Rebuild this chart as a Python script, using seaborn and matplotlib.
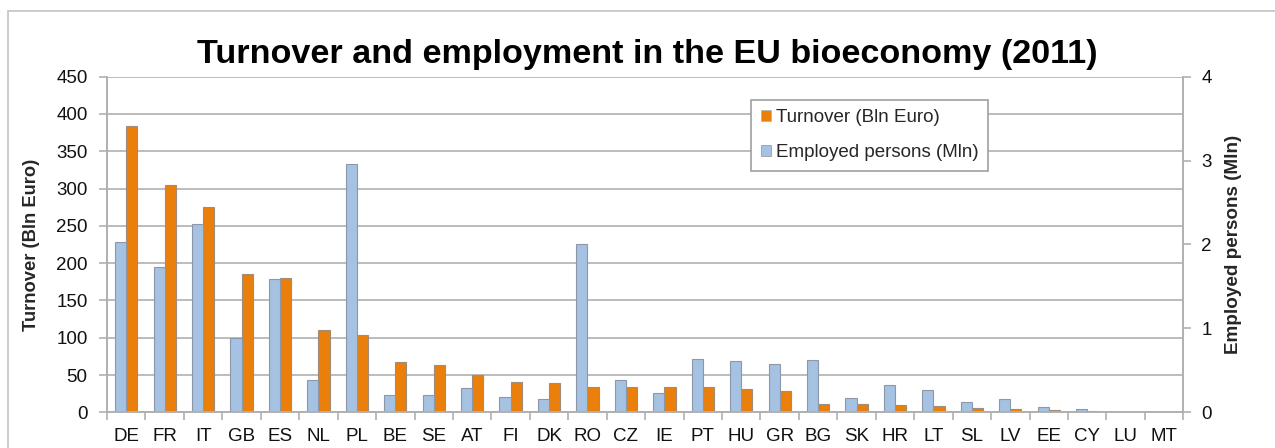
import matplotlib
matplotlib.use("Agg")
import matplotlib.pyplot as plt
import matplotlib.patches as mpatches
from matplotlib.ticker import FixedLocator, NullFormatter
import seaborn as sns
import pandas as pd
import numpy as np

countries = ["DE", "FR", "IT", "GB", "ES", "NL", "PL", "BE", "SE", "AT", "FI", "DK", "RO", "CZ",
             "IE", "PT", "HU", "GR", "BG", "SK", "HR", "LT", "SL", "LV", "EE", "CY", "LU", "MT"]
turnover = [384, 305, 275, 185, 180, 111, 103, 68, 64, 50, 41, 39, 34, 34,
            34, 34, 31, 28, 11, 11, 10, 8.5, 6.3, 5, 3.6, 2.2, 0.5, 0.3]
employed = [2.03, 1.73, 2.24, 0.89, 1.59, 0.38, 2.96, 0.21, 0.21, 0.29, 0.18, 0.155, 2.0, 0.39,
            0.23, 0.63, 0.61, 0.57, 0.62, 0.17, 0.325, 0.26, 0.12, 0.155, 0.063, 0.044, 0.005, 0.003]

TURN = "Turnover (Bln Euro)"
EMP = "Employed persons (Mln)"
left_ticks = [0, 50, 100, 150, 200, 250, 300, 350, 400, 450]
right_ticks = [0, 1, 2, 3, 4]

sns.set_style("white")
plt.rcParams["font.family"] = ["Liberation Sans", "DejaVu Sans"]

BLUE = "#a6c2e2"
ORANGE = "#ea800b"
GRID = "#b0b0b0"
palette = {EMP: BLUE, TURN: ORANGE}
hue_order = [EMP, TURN]
FS = 13.5

df_t = pd.DataFrame({"country": countries, "value": turnover, "series": TURN})
df_e = pd.DataFrame({"country": countries, "value": employed, "series": EMP})

fig = plt.figure(figsize=(12.75, 4.48), dpi=100)
ax = fig.add_axes([107 / 1275, 1 - 412.3 / 448, 1076.3 / 1275, 335.6 / 448])
ax2 = ax.twinx()

sns.barplot(data=df_t, x="country", y="value", hue="series", hue_order=hue_order,
            palette=palette, order=countries, width=0.58, dodge=True, ax=ax,
            saturation=1, edgecolor="#a08c78", linewidth=0.8, legend=False, errorbar=None)
sns.barplot(data=df_e, x="country", y="value", hue="series", hue_order=hue_order,
            palette=palette, order=countries, width=0.58, dodge=True, ax=ax2,
            saturation=1, edgecolor="#8c98a8", linewidth=0.8, legend=False, errorbar=None)

ax.set_xlim(-0.5, len(countries) - 0.5)
ax.set_ylim(0, 450)
ax2.set_ylim(0, 4)
ax.set_yticks(left_ticks)
ax2.set_yticks(right_ticks)
ax.set_yticklabels([str(t) for t in left_ticks])
ax2.set_yticklabels([str(t) for t in right_ticks])

ax.set_axisbelow(True)
ax.yaxis.grid(True, color=GRID, linewidth=1.2)
ax.xaxis.grid(False)
ax2.grid(False)

for a in (ax, ax2):
    for s in a.spines.values():
        s.set_color(GRID)
        s.set_linewidth(1.2)
    a.spines["top"].set_visible(False)
    a.set_xlabel("")

ax.tick_params(axis="y", which="major", length=6, width=1.2, color=GRID, pad=8,
               labelsize=FS, labelcolor="#111111", left=True)
ax2.tick_params(axis="y", which="major", length=6, width=1.2, color=GRID, pad=7,
                labelsize=FS, labelcolor="#111111", right=True)
ax.tick_params(axis="x", which="major", length=0, pad=11, labelsize=FS, labelcolor="#111111")
ax.xaxis.set_minor_locator(FixedLocator(np.arange(-0.5, len(countries), 1.0)))
ax.xaxis.set_minor_formatter(NullFormatter())
ax.tick_params(axis="x", which="minor", length=6, width=1.2, color=GRID, bottom=True)
ax2.tick_params(axis="x", which="both", bottom=False, labelbottom=False)

ax.set_ylabel(TURN, fontsize=13.2, fontweight="bold")
ax.yaxis.set_label_coords(-0.062, 0.5)
ax2.set_ylabel(EMP, fontsize=13.6, fontweight="bold")
ax2.yaxis.set_label_coords(1.039, 0.5)

fig.text(647 / 1275, 1 - 54 / 448, "Turnover and employment in the EU bioeconomy (2011)",
         ha="center", va="center", fontsize=24.6, fontweight="bold", color="#000000")

handles = [mpatches.Patch(facecolor=ORANGE, edgecolor="#b0b0b0", linewidth=0.5, label=TURN),
           mpatches.Patch(facecolor=BLUE, edgecolor="#909090", linewidth=0.5, label=EMP)]
leg = ax2.legend(handles=handles, loc="upper left", bbox_to_anchor=(0.5985, 0.931),
                 fontsize=FS, frameon=True, fancybox=False, shadow=False,
                 handlelength=0.55, handleheight=0.55, handletextpad=0.25,
                 labelspacing=0.97, borderpad=0.5, borderaxespad=0)
leg.get_frame().set_edgecolor("#a0a0a0")
leg.get_frame().set_linewidth(1.2)
leg.get_frame().set_facecolor("white")
leg.get_frame().set_alpha(1)

border = mpatches.Rectangle((8 / 1275, -0.1), 1.2, (1 - 11 / 448) + 0.1,
                            transform=fig.transFigure, fill=False,
                            edgecolor="#c4c4c4", linewidth=1.2)
fig.patches.append(border)

fig.savefig("out.png", dpi=100)
